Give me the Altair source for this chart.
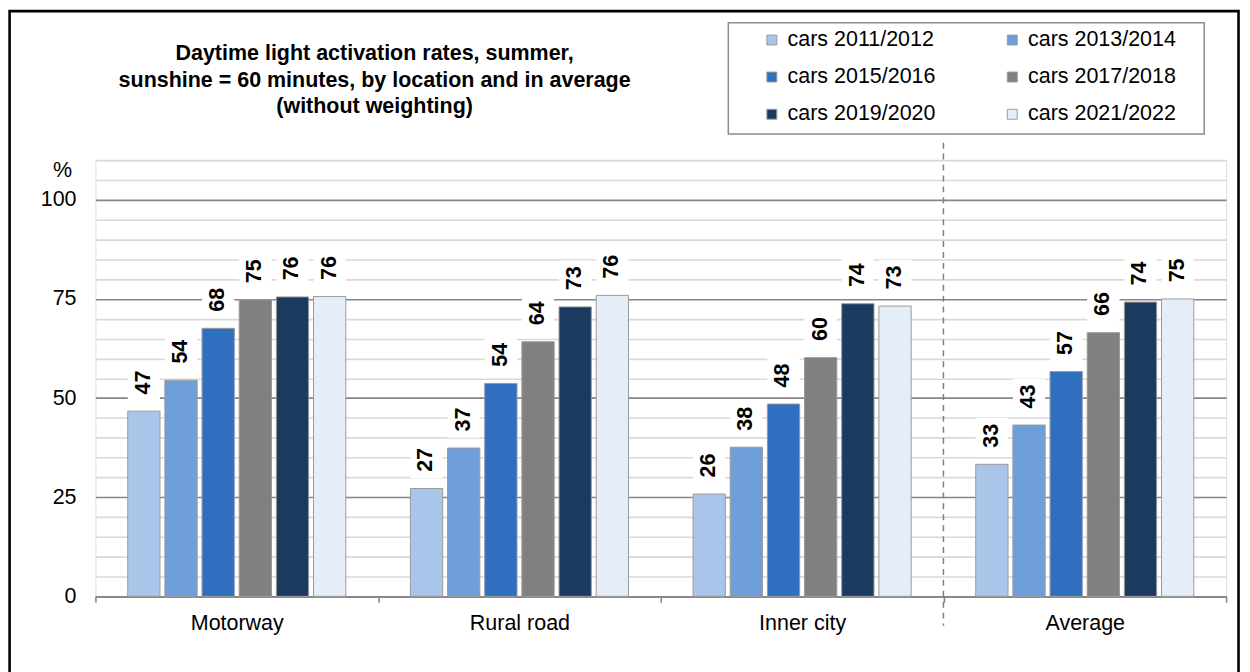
import altair as alt
import pandas as pd

FONT = "Liberation Sans"
FS = 21.6

locations = ["Motorway", "Rural road", "Inner city", "Average"]
series = ["cars 2011/2012", "cars 2013/2014", "cars 2015/2016",
          "cars 2017/2018", "cars 2019/2020", "cars 2021/2022"]
colors = ["#A9C6EA", "#6E9FD9", "#2F6FBF", "#808080", "#1B3A5F", "#E5EDF8"]

values_2011 = [46.7, 27.2, 25.8, 33.3]
values_2013 = [54.5, 37.4, 37.6, 43.2]
values_2015 = [67.6, 53.7, 48.5, 56.7]
values_2017 = [74.8, 64.2, 60.2, 66.5]
values_2019 = [75.5, 73.0, 73.8, 74.2]
values_2021 = [75.6, 75.9, 73.2, 75.0]

labels_2011 = ["47", "27", "26", "33"]
labels_2013 = ["54", "37", "38", "43"]
labels_2015 = ["68", "54", "48", "57"]
labels_2017 = ["75", "64", "60", "66"]
labels_2019 = ["76", "73", "74", "74"]
labels_2021 = ["76", "76", "73", "75"]

all_values = [values_2011, values_2013, values_2015, values_2017, values_2019, values_2021]
all_labels = [labels_2011, labels_2013, labels_2015, labels_2017, labels_2019, labels_2021]

rows = []
for s, vals, labs in zip(series, all_values, all_labels):
    for loc, v, l in zip(locations, vals, labs):
        rows.append({"location": loc, "series": s, "value": v, "label": l})
df = pd.DataFrame(rows)

title_lines = ["Daytime light activation rates, summer,",
               "sunshine = 60 minutes, by location and in average",
               "(without weighting)"]

x_axis = alt.Axis(title=None, labelAngle=0, labelFontSize=FS, labelFont=FONT,
                  labelColor="black", labelPadding=10, tickBand="extent",
                  tickSize=6, tickColor="#868686", tickWidth=1.6,
                  domainColor="#868686", domainWidth=1.6, grid=False)
x_scale = alt.Scale(domain=locations, paddingInner=0, paddingOuter=0)
x_enc = alt.X("location:N", sort=locations, scale=x_scale, axis=x_axis)
xoff = alt.XOffset("series:N", sort=series,
                   scale=alt.Scale(domain=series, paddingInner=0.131, paddingOuter=0.869))

y_scale = alt.Scale(domain=[0, 110], nice=False, zero=True)
y_axis = alt.Axis(title="%", titleAngle=0, titleX=-33.5, titleY=10.4,
                  titleAlign="center", titleBaseline="middle", titleFontSize=FS,
                  titleFontWeight="normal", titleFont=FONT, titleColor="black",
                  values=list(range(0, 111, 5)),
                  labelExpr="datum.value % 25 === 0 ? datum.label : ''",
                  labelFontSize=FS, labelFont=FONT, labelColor="black",
                  labelPadding=19.5, ticks=False, domain=False, grid=True,
                  gridColor=alt.condition("datum.value % 25 === 0",
                                          alt.value("#868686"), alt.value("#d9d9d9")),
                  gridWidth=1.6)

base = alt.Chart(df)

bars = base.mark_bar(stroke="#9a9a9a", strokeWidth=1).encode(
    x=x_enc,
    xOffset=xoff,
    y=alt.Y("value:Q", scale=y_scale, axis=y_axis),
    color=alt.Color("series:N", sort=series,
                    scale=alt.Scale(domain=series, range=colors),
                    legend=alt.Legend(title=None, orient="none", legendX=670, legendY=-132,
                                      direction="horizontal", columns=2,
                                      symbolType="square", symbolSize=100,
                                      symbolStrokeColor="#9a9a9a", symbolStrokeWidth=1,
                                      labelFontSize=FS, labelFont=FONT, labelColor="black",
                                      labelOffset=5, labelLimit=300, columnPadding=66,
                                      rowPadding=14.5, padding=0)),
)

boxes = base.transform_calculate(
    b0="datum.value + 2.6", b1="datum.value + 11.7"
).mark_bar(color="white").encode(
    x=x_enc,
    xOffset=xoff,
    y=alt.Y("b0:Q", scale=y_scale, axis=y_axis),
    y2="b1:Q",
)

texts = base.transform_calculate(ly="datum.value + 7.2").mark_text(
    angle=270, fontSize=FS, fontWeight="bold", font=FONT, color="black",
    align="center", baseline="middle"
).encode(
    x=x_enc,
    xOffset=xoff,
    y=alt.Y("ly:Q", scale=y_scale, axis=y_axis),
    text="label:N",
)

divider = alt.Chart(pd.DataFrame({"location": ["Average"]})).mark_rule(
    strokeDash=[6, 5], color="#808080", strokeWidth=1.5
).encode(
    x=alt.X("location:N", sort=locations, scale=x_scale, axis=x_axis, bandPosition=0),
    y=alt.value(-17.6),
    y2=alt.value(468.7),
)

one = pd.DataFrame({"k": [0]})
legend_box = alt.Chart(one).mark_rect(fill="transparent", stroke="#8c8c8c", strokeWidth=1.5).encode(
    x=alt.value(637), x2=alt.value(1116), y=alt.value(-138.3), y2=alt.value(-26.3)
)
outer_box = alt.Chart(one).mark_rect(fill="transparent", stroke="black", strokeWidth=2.6).encode(
    x=alt.value(-86.4), x2=alt.value(1150.5), y=alt.value(-150), y2=alt.value(530)
)
title_text = alt.Chart(one).mark_text(
    font=FONT, fontSize=FS, fontWeight="bold", color="black",
    align="center", baseline="middle", lineHeight=27
).encode(
    x=alt.value(281), y=alt.value(-107), text=alt.value(title_lines)
)

chart = alt.layer(outer_box, legend_box, title_text, bars, divider, boxes, texts).properties(
    width=1138,
    height=439,
    padding={"left": 88, "top": 151, "right": 16, "bottom": 74},
    autosize=alt.AutoSizeParams(type="none"),
).configure_view(stroke="transparent").configure(background="white")

chart.save("out.html", embed_options={"renderer": "svg", "actions": False})
